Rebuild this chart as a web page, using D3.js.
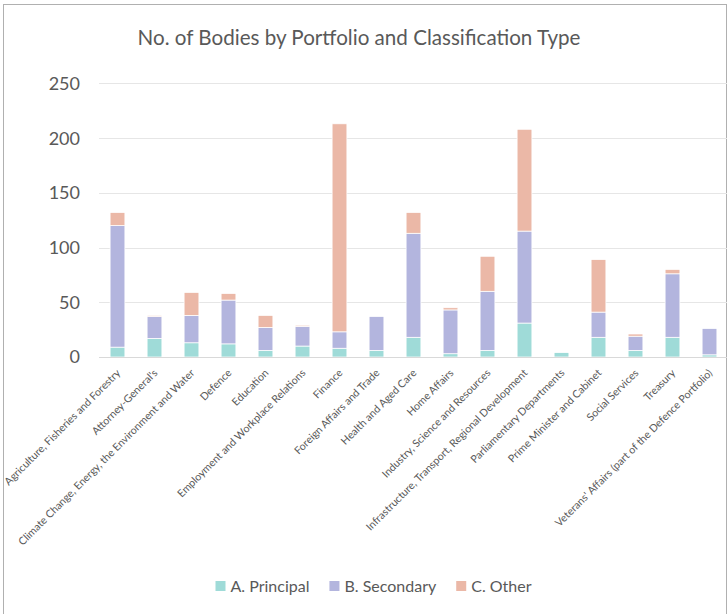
<!DOCTYPE html>
<html><head><meta charset="utf-8">
<script src="https://cdn.jsdelivr.net/npm/d3@7"></script>
<style>body{margin:0;background:#fff}svg{display:block}text{font-family:Lato,"Open Sans",sans-serif;fill:#595959}</style>
</head><body><svg id="c" width="728" height="614"></svg>
<script>
const categories = ["Agriculture, Fisheries and Forestry","Attorney-General's","Climate Change, Energy, the Environment and Water","Defence","Education","Employment and Workplace Relations","Finance","Foreign Affairs and Trade","Health and Aged Care","Home Affairs","Industry, Science and Resources","Infrastructure, Transport, Regional Development","Parliamentary Departments","Prime Minister and Cabinet","Social Services","Treasury","Veterans' Affairs (part of the Defence Portfolio)"];
const principal = [9,17,13,12,6,10,8,6,18,3,6,31,4,18,6,18,2];
const secondary = [111,20,25,40,21,18,15,31,95,40,54,84,0,23,13,58,24];
const other = [12,1,21,6,11,1,190,0,19,2,32,93,0,48,2,4,0];
const seriesNames = ["A. Principal","B. Secondary","C. Other"];
const colors = ["#9fdbd8","#b3b5de","#ebb8a7"];
const yTicks = [0,50,100,150,200,250];
const title = "No. of Bodies by Portfolio and Classification Type";

const svg = d3.select("#c");
const L = 99, R = 728, T = 83.3, B = 357;
const x = d3.scaleBand().domain(categories).range([L, R]).paddingInner(0.6).paddingOuter(0.3);
const y = d3.scaleLinear().domain([0, 250]).range([B, T]);

svg.append("rect").attr("x",3.5).attr("y",4.5).attr("width",723).attr("height",640)
  .attr("fill","none").attr("stroke","#b0b0b0").attr("stroke-width",1);

svg.append("text").attr("x",359).attr("y",44.5).attr("text-anchor","middle")
  .style("font-size","20.6px").text(title);

const grid = svg.append("g");
yTicks.forEach(t => {
  if (t > 0) grid.append("line").attr("x1",L).attr("x2",R-1).attr("y1",Math.round(y(t))+0.5).attr("y2",Math.round(y(t))+0.5)
    .attr("stroke","#e6e6e6").attr("stroke-width",1);
  grid.append("text").attr("x",80).attr("y",y(t)).attr("dy","0.36em").attr("text-anchor","end")
    .style("font-size","18px").text(t);
});

const data = categories.map((c,i)=>({cat:c, principal:principal[i], secondary:secondary[i], other:other[i]}));
const stack = d3.stack().keys(["principal","secondary","other"])(data);
svg.append("g").selectAll("g").data(stack).join("g").attr("fill",(d,i)=>colors[i])
  .selectAll("rect").data(d=>d.filter(s=>s[1]-s[0]>0)).join("rect")
  .attr("x",d=>x(d.data.cat)).attr("width",x.bandwidth())
  .attr("y",d=>y(d[1])).attr("height",d=>y(d[0])-y(d[1]))
  .attr("stroke","#fff").attr("stroke-width",0.75);

svg.append("line").attr("x1",L).attr("x2",R-1).attr("y1",B+0.5).attr("y2",B+0.5).attr("stroke","#d9d9d9");

const xl = svg.append("g");
categories.forEach(c => {
  const cx = x(c) + x.bandwidth()/2;
  xl.append("text").attr("transform",`translate(${cx+1},${B+14}) rotate(-45)`)
    .attr("text-anchor","end").attr("dy","0.35em").style("font-size","10.6px").text(c);
});

const lg = svg.append("g");
const items = [];
seriesNames.forEach((n,i)=>{
  const g = lg.append("g");
  g.append("rect").attr("x",0).attr("y",-5).attr("width",10).attr("height",10).attr("fill",colors[i]);
  const t = g.append("text").attr("x",15).attr("dy","0.36em").style("font-size","16px").text(n);
  const w = 15 + t.node().getComputedTextLength();
  items.push({g,w});
});
const gap = 20;
const total = d3.sum(items,d=>d.w) + gap*(items.length-1);
let cur = 373.5 - total/2;
items.forEach(it=>{ it.g.attr("transform",`translate(${cur},586)`); cur += it.w + gap; });
</script></body></html>
